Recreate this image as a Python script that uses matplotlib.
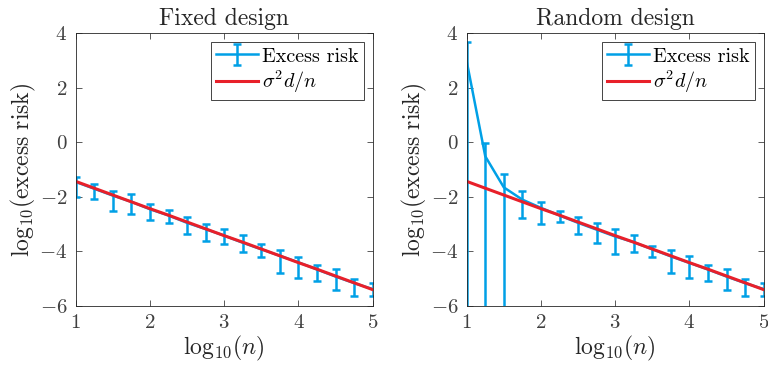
'''Excess risk vs sample size, fixed and random design'''

import matplotlib
matplotlib.use('Agg')
import matplotlib.pyplot as plt
import numpy as np

plt.rcParams['font.family'] = 'serif'
plt.rcParams['font.serif'] = ['cmr10']
plt.rcParams['mathtext.fontset'] = 'cm'
plt.rcParams['axes.formatter.use_mathtext'] = True

#Data (log10 values)
log_n = [1, 1.25, 1.5, 1.75, 2, 2.25, 2.5, 2.75, 3, 3.25, 3.5, 3.75, 4, 4.25, 4.5, 4.75, 5]
theory = [-1.43, -1.68, -1.93, -2.18, -2.43, -2.67, -2.92, -3.17, -3.42,
          -3.66, -3.91, -4.16, -4.41, -4.65, -4.90, -5.15, -5.40]

fixed_mid = [-1.45, -1.70, -1.95, -2.18, -2.45, -2.68, -2.95, -3.18, -3.42,
             -3.68, -3.92, -4.16, -4.40, -4.66, -4.92, -5.16, -5.38]
fixed_hi = [-1.26, -1.52, -1.78, -1.89, -2.25, -2.48, -2.75, -3.01, -3.18,
            -3.41, -3.73, -3.94, -4.19, -4.50, -4.66, -5.02, -5.17]
fixed_lo = [-2.02, -2.08, -2.53, -2.63, -2.86, -2.97, -3.36, -3.63, -3.72,
            -4.02, -4.22, -4.80, -4.98, -5.10, -5.42, -5.65, -5.64]

rand_mid = [2.97, -0.51, -1.65, -2.10, -2.40, -2.68, -2.95, -3.20, -3.45,
            -3.66, -3.92, -4.18, -4.42, -4.66, -4.92, -5.16, -5.38]
rand_hi = [3.70, -0.04, -1.16, -1.80, -2.18, -2.51, -2.75, -2.96, -3.18,
           -3.40, -3.80, -3.94, -4.18, -4.50, -4.65, -5.01, -5.16]
rand_lo = [-10, -10, -10, -2.79, -2.98, -2.93, -3.35, -3.69, -4.08,
           -4.02, -4.22, -4.79, -4.98, -5.10, -5.42, -5.65, -5.65]

titles = ['Fixed design', 'Random design']
BLUE = '#00a0e6'
RED = '#e8202a'
GREY = '#262626'


def Panel(ax, mid, hi, lo, title):
    '''Draw one panel'''
    mid = np.array(mid)
    err = [mid - np.array(lo), np.array(hi) - mid]
    eb = ax.errorbar(log_n, mid, yerr=err, color=BLUE, lw=1.8, elinewidth=1.8,
                     capsize=3, capthick=1.8, label='Excess risk', zorder=2)
    ln, = ax.plot(log_n, theory, color=RED, lw=2.2, label=r'$\sigma^2 d/n$', zorder=4)
    ax.set_xlim(1, 5)
    ax.set_ylim(-6, 4)
    ax.set_xticks([1, 2, 3, 4, 5])
    ax.set_yticks([-6, -4, -2, 0, 2, 4])
    ax.tick_params(direction='in', top=True, right=True, length=4,
                   labelsize=15, colors='#404040', width=0.6, pad=6)
    for s in ax.spines.values():
        s.set_color(GREY)
        s.set_linewidth(0.6)
        s.set_zorder(5)
    ax.set_title(title, fontsize=17, color='#262626', pad=6)
    ax.set_xlabel(r'$\mathrm{log}_{10}(n)$', fontsize=17, color='#262626', labelpad=1)
    ax.set_ylabel(r'$\mathrm{log}_{10}(\mathrm{excess\ risk})$', fontsize=17,
                  color='#262626', labelpad=1)
    leg = ax.legend([eb, ln], ['Excess risk', r'$\sigma^2 d/n$'], loc='upper right',
                    fontsize=14.5, fancybox=False, framealpha=1, edgecolor=GREY,
                    borderaxespad=0.45, handlelength=2.1, handletextpad=0.2,
                    borderpad=0.25, labelspacing=0.15)
    leg.get_frame().set_linewidth(0.6)
    leg.set_zorder(6)


#Main
if __name__ == "__main__":
    fig = plt.figure(figsize=(7.68, 3.69), dpi=100)
    ax1 = fig.add_axes([0.0986, 0.1707, 0.3867, 0.739])
    ax2 = fig.add_axes([0.6077, 0.1707, 0.3867, 0.739])
    Panel(ax1, fixed_mid, fixed_hi, fixed_lo, titles[0])
    Panel(ax2, rand_mid, rand_hi, rand_lo, titles[1])
    fig.savefig('out.png', dpi=100)
